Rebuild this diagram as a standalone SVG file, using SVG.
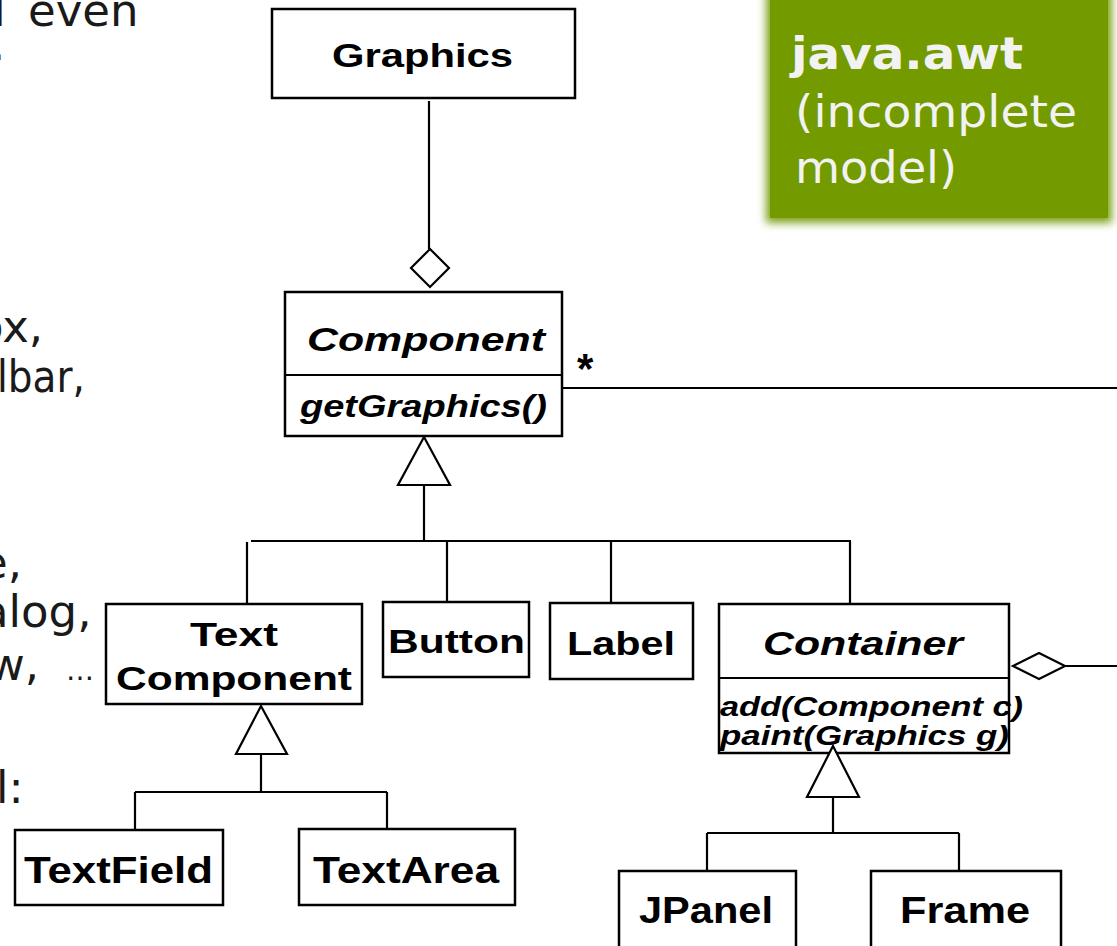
<svg xmlns="http://www.w3.org/2000/svg" width="1117" height="946" viewBox="0 0 1117 946">
<style>
.bg{fill:#ffffff}
.box{fill:#ffffff;stroke:#000;stroke-width:2.5}
.ln{fill:none;stroke:#000;stroke-width:2.2}
.hd{fill:#ffffff;stroke:#000;stroke-width:2.2}
.lbl{font-family:"Liberation Sans",Arial,sans-serif;font-weight:bold;font-size:34px;fill:#000}
.big{font-size:36px}
.it{font-style:italic}
.op{font-family:"Liberation Sans",Arial,sans-serif;font-weight:bold;font-style:italic;font-size:27px;fill:#000}
.side{font-family:"DejaVu Sans","Noto Sans",sans-serif;font-size:45px;fill:#1a1a1a}
.gt{font-family:"DejaVu Sans","Noto Sans",sans-serif;font-size:45px;fill:#f2f2f2}
</style>
<defs>
<filter id="soft" x="-10%" y="-10%" width="120%" height="120%">
<feGaussianBlur stdDeviation="4"/>
</filter>
</defs>
<rect class="bg" x="0" y="0" width="1117" height="946"/>

<g id="side-text">
<text class="side" x="-23" y="26">d</text>
<text class="side" x="28" y="26">even</text>
<text class="side" x="-9" y="60">.</text>
<text class="side" x="-24" y="342">ox,</text>
<text class="side" x="-3" y="392" textLength="88" lengthAdjust="spacingAndGlyphs">lbar,</text>
<text class="side" x="-20" y="578">e,</text>
<text class="side" x="-19" y="627">alog,</text>
<text class="side" x="-12" y="680">w,</text>
<text class="side" x="66" y="680" style="font-size:28px">…</text>
<text class="side" x="-4" y="803">l:</text>
</g>

<g id="package-note">
<rect x="766" y="-12" width="346" height="235" fill="#7fa31a" filter="url(#soft)"/>
<rect x="770" y="-8" width="338" height="226" fill="#739b00"/>
<text class="gt" x="791" y="69" font-weight="bold" textLength="232" lengthAdjust="spacingAndGlyphs">java.awt</text>
<text class="gt" x="795" y="127" textLength="282" lengthAdjust="spacingAndGlyphs">(incomplete</text>
<text class="gt" x="795" y="183" textLength="162" lengthAdjust="spacingAndGlyphs">model)</text>
</g>

<g id="connectors">
<line class="ln" x1="429" y1="101" x2="429" y2="249"/>
<polygon class="hd" points="430,249 449,268 430,287 411,268"/>
<line class="ln" x1="562" y1="388" x2="1117" y2="388"/>
<text class="lbl" x="577" y="383" style="font-size:42px">*</text>
<polygon class="hd" points="424,437 450,485 398,485"/>
<line class="ln" x1="424" y1="485" x2="424" y2="541"/>
<line class="ln" x1="251" y1="541" x2="851" y2="541"/>
<line class="ln" x1="247" y1="542" x2="247" y2="604"/>
<line class="ln" x1="447" y1="541" x2="447" y2="603"/>
<line class="ln" x1="611" y1="541" x2="611" y2="603"/>
<line class="ln" x1="850" y1="541" x2="850" y2="604"/>
<polygon class="hd" points="261,706 287,754 236,754"/>
<line class="ln" x1="261" y1="754" x2="261" y2="792"/>
<line class="ln" x1="135" y1="792" x2="387" y2="792"/>
<line class="ln" x1="135" y1="792" x2="135" y2="830"/>
<line class="ln" x1="387" y1="792" x2="387" y2="829"/>
<line class="ln" x1="1065" y1="666" x2="1117" y2="666"/>
<polygon class="hd" points="1013,666 1039,653 1065,666 1039,679"/>
<line class="ln" x1="833" y1="797" x2="833" y2="833"/>
<line class="ln" x1="707" y1="833" x2="959" y2="833"/>
<line class="ln" x1="707" y1="833" x2="707" y2="871"/>
<line class="ln" x1="959" y1="833" x2="959" y2="871"/>
</g>

<g id="Graphics">
<rect class="box" x="272" y="9" width="303" height="89"/>
<text class="lbl" x="332" y="67" style="font-size:33px" textLength="181" lengthAdjust="spacingAndGlyphs">Graphics</text>
</g>

<g id="Component">
<rect class="box" x="285" y="292" width="277" height="144"/>
<line class="ln" x1="285" y1="375" x2="562" y2="375"/>
<text class="lbl it" x="307" y="351" textLength="238" lengthAdjust="spacingAndGlyphs">Component</text>
<text class="lbl it" x="300" y="417" style="font-size:31px" textLength="247" lengthAdjust="spacingAndGlyphs">getGraphics()</text>
</g>

<g id="TextComponent">
<rect class="box" x="106" y="604" width="256" height="100"/>
<text class="lbl" x="190" y="646" textLength="88" lengthAdjust="spacingAndGlyphs">Text</text>
<text class="lbl" x="116" y="690" textLength="236" lengthAdjust="spacingAndGlyphs">Component</text>
</g>

<g id="Button">
<rect class="box" x="383" y="602" width="146" height="75"/>
<text class="lbl" x="388" y="653" textLength="137" lengthAdjust="spacingAndGlyphs">Button</text>
</g>

<g id="Label">
<rect class="box" x="550" y="603" width="143" height="76"/>
<text class="lbl" x="567" y="655" textLength="108" lengthAdjust="spacingAndGlyphs">Label</text>
</g>

<g id="Container">
<rect class="box" x="719" y="604" width="290" height="149"/>
<line class="ln" x1="719" y1="678" x2="1009" y2="678"/>
<text class="lbl it" x="763" y="655" textLength="200" lengthAdjust="spacingAndGlyphs">Container</text>
<polygon class="hd" points="833,746 859,797 807,797"/>
<text class="op" x="720" y="716" textLength="303" lengthAdjust="spacingAndGlyphs">add(Component c)</text>
<text class="op" x="720" y="745" textLength="289" lengthAdjust="spacingAndGlyphs">paint(Graphics g)</text>
</g>

<g id="TextField">
<rect class="box" x="15" y="830" width="208" height="75"/>
<text class="lbl big" x="24" y="883" textLength="189" lengthAdjust="spacingAndGlyphs">TextField</text>
</g>

<g id="TextArea">
<rect class="box" x="299" y="829" width="216" height="76"/>
<text class="lbl big" x="313" y="883" textLength="186" lengthAdjust="spacingAndGlyphs">TextArea</text>
</g>

<g id="JPanel">
<rect class="box" x="619" y="871" width="177" height="90"/>
<text class="lbl big" x="639" y="923" textLength="134" lengthAdjust="spacingAndGlyphs">JPanel</text>
</g>

<g id="Frame">
<rect class="box" x="871" y="871" width="190" height="90"/>
<text class="lbl big" x="900" y="923" textLength="130" lengthAdjust="spacingAndGlyphs">Frame</text>
</g>
</svg>
